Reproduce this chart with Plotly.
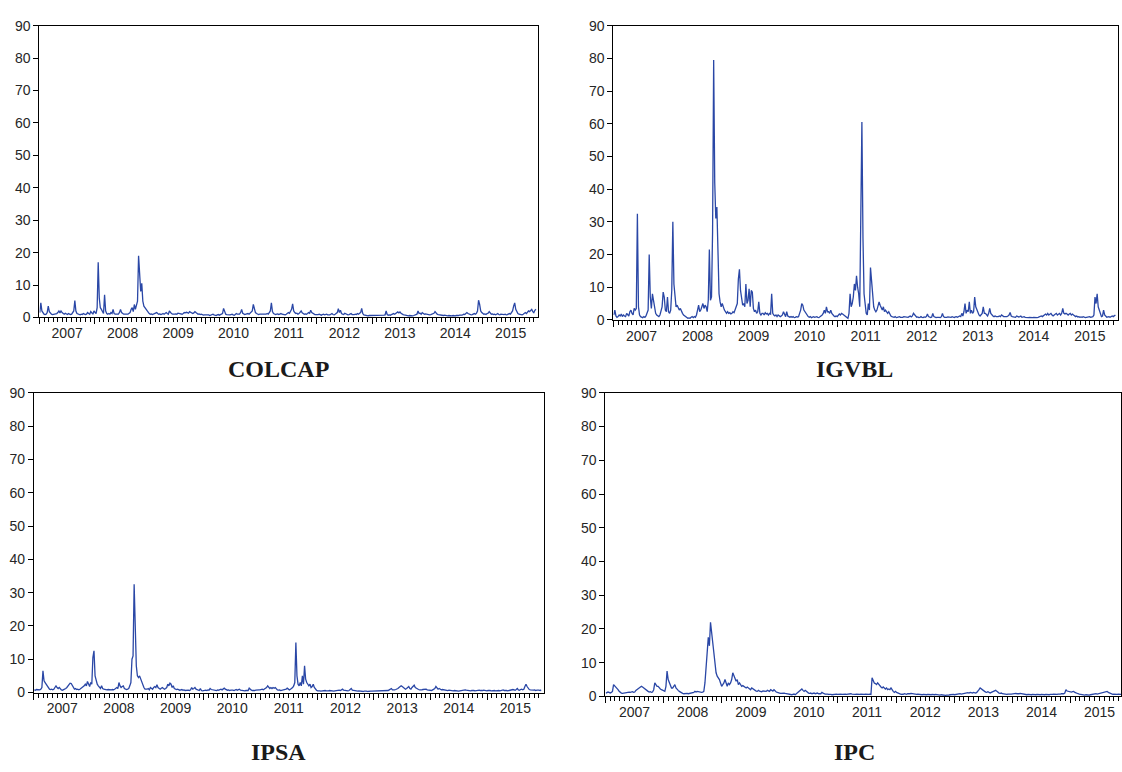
import pandas as pd
import plotly.graph_objects as go

# Weekly observations, one row of 52 per year (2007 ... 2015)
colcap = [
    1.5,4.5,2.0,1.2,1.0,0.9,1.0,1.5,3.5,1.8,1.2,1.0,0.9,1.0,1.1,1.0,1.2,1.5,2.0,1.4,2.0,1.5,1.2,1.0,1.3,1.0,0.9,1.2,1.0,0.9,1.0,1.5,2.0,5.2,2.0,1.2,1.0,0.9,0.8,1.0,0.9,1.2,1.0,0.9,1.0,1.5,1.2,1.0,1.8,1.2,1.0,2.0,
    1.5,1.2,3.0,17.0,6.0,3.0,2.5,1.5,1.2,7.0,2.0,1.2,1.0,1.2,1.0,1.5,1.2,2.5,1.2,1.0,1.0,0.9,1.0,1.5,2.5,1.5,1.2,1.0,1.0,0.9,1.0,1.0,1.2,1.5,2.5,3.0,1.8,4.0,2.5,3.5,5.0,19.0,11.0,8.0,10.5,5.0,3.5,3.0,2.5,2.0,1.5,1.2,
    1.0,1.1,0.9,1.0,1.2,1.3,1.5,1.2,1.0,1.1,0.9,1.0,1.2,1.0,1.3,1.5,1.2,1.0,2.0,1.5,1.2,1.0,0.9,1.0,1.1,1.0,1.3,1.2,1.0,0.9,1.0,1.2,1.5,1.4,1.6,1.5,1.3,1.8,1.5,1.3,1.2,1.4,1.8,1.5,1.2,1.0,1.1,0.9,1.0,0.8,0.7,0.8,
    0.8,0.7,0.9,0.8,0.6,0.7,0.9,1.0,0.8,0.7,0.6,0.8,0.9,0.7,0.8,1.0,1.2,2.8,1.5,1.0,0.9,0.8,0.7,0.8,0.9,1.0,0.8,0.7,0.9,1.2,1.0,0.9,1.0,1.5,2.5,1.3,1.0,0.9,1.0,1.1,1.2,1.0,1.3,1.5,2.0,4.0,2.5,1.5,1.2,1.0,0.9,1.0,
    1.0,0.9,1.0,1.1,0.9,1.0,1.2,1.0,1.5,2.0,4.5,1.8,1.2,1.0,0.9,1.0,1.1,0.9,1.0,1.2,1.0,0.9,1.0,0.8,1.0,1.2,1.5,1.3,1.8,2.5,4.2,2.0,1.5,1.2,1.3,1.0,1.2,1.5,2.0,1.4,1.2,1.0,1.1,1.0,1.2,1.5,1.3,2.2,1.5,1.2,1.0,0.9,
    0.9,0.8,0.9,1.0,0.8,0.7,0.9,1.0,0.8,0.9,1.0,0.8,0.7,0.8,1.0,1.2,0.9,0.8,1.0,1.2,1.5,2.7,1.5,2.2,1.2,1.0,0.9,1.3,1.1,1.0,0.8,0.9,1.0,1.2,0.9,0.8,0.9,1.0,0.9,1.2,1.0,1.3,1.5,2.8,1.2,0.8,0.7,0.6,0.6,0.5,0.6,0.6,
    0.5,0.6,0.5,0.6,0.5,0.6,0.5,0.6,0.7,0.6,0.5,0.6,0.7,0.8,2.0,0.9,0.7,0.8,0.7,0.9,1.0,1.2,1.0,1.3,1.5,1.7,1.4,1.7,1.3,1.0,0.9,0.8,0.7,0.6,0.6,0.5,0.6,0.5,0.6,0.5,0.6,0.7,0.8,1.0,2.0,1.2,1.3,1.0,1.5,1.2,1.0,1.1,
    1.0,0.9,1.0,0.8,0.9,1.0,1.2,1.3,1.8,1.2,1.0,0.9,0.8,0.7,0.8,0.7,0.6,0.7,0.6,0.6,0.5,0.6,0.5,0.6,0.5,0.6,0.5,0.5,0.6,0.5,0.6,0.7,0.6,0.7,0.8,1.0,0.9,1.2,1.5,1.2,1.0,0.9,0.8,0.9,1.0,1.2,1.0,1.3,2.0,5.3,4.0,2.0,
    1.5,1.2,1.0,1.1,0.9,1.2,1.3,1.8,1.2,1.0,1.1,0.9,1.0,0.8,1.0,1.2,0.9,0.8,1.0,0.9,0.8,0.9,1.0,0.8,0.9,1.0,1.2,1.0,1.5,2.0,3.5,4.5,2.5,1.5,1.2,1.0,0.9,1.0,0.8,1.0,1.2,1.5,1.2,1.5,2.0,1.8,2.2,2.5,1.8,1.5,2.2,2.5,
]

igvbl = [
    1.5,3.0,1.2,0.8,1.0,1.5,1.2,1.8,1.0,1.5,1.2,1.0,2.0,1.5,1.2,2.5,3.0,2.0,1.5,3.5,3.0,3.5,32.5,4.0,1.5,1.0,0.8,0.7,1.0,0.8,1.2,2.0,3.0,20.0,7.0,3.5,8.0,6.0,3.0,2.0,1.5,1.2,1.0,1.5,2.5,4.0,8.5,7.0,3.0,2.5,7.0,2.5,
    2.0,3.0,9.0,30.0,11.0,6.0,4.0,4.5,3.5,3.0,3.5,2.5,2.0,1.5,1.2,1.0,0.8,0.5,0.6,0.5,0.8,1.0,0.7,1.0,0.8,1.5,3.0,4.5,2.5,3.0,4.0,5.0,3.5,4.5,4.0,2.5,6.0,21.5,6.0,7.0,27.0,79.5,42.0,31.0,34.5,20.0,8.0,5.5,4.0,5.0,3.5,3.0,
    2.5,2.0,2.5,2.0,2.2,1.8,2.0,2.5,2.2,3.0,4.0,5.0,12.5,15.5,9.0,6.0,4.5,5.0,4.0,11.0,5.0,6.0,9.5,4.0,9.0,8.5,3.5,2.5,3.0,2.0,2.5,5.5,2.0,1.5,2.0,2.0,1.5,2.2,1.8,2.0,1.5,2.0,1.8,8.0,2.0,1.5,1.2,1.5,1.0,1.5,1.2,1.0,
    1.2,1.5,2.5,1.5,1.0,2.5,1.2,1.0,0.8,1.0,0.8,1.0,0.7,0.8,1.0,0.9,1.0,2.0,3.0,5.0,4.5,3.0,2.5,2.0,1.2,1.0,0.8,1.0,0.7,0.8,1.0,0.8,0.9,1.0,0.8,0.7,1.0,1.2,1.5,2.0,3.0,2.0,4.0,2.5,2.5,2.0,3.0,2.0,1.5,1.2,1.0,1.2,
    1.0,1.5,1.8,1.5,2.0,1.8,1.5,1.5,1.0,0.8,0.5,2.0,8.0,4.0,5.0,7.0,11.0,9.0,13.5,10.0,8.0,4.0,26.0,60.5,25.0,8.0,5.0,2.0,1.5,5.0,3.0,16.0,12.0,6.0,4.0,3.0,2.5,3.0,4.0,5.5,4.5,3.5,3.0,4.0,2.5,3.0,2.5,2.0,2.5,1.5,1.2,1.0,
    0.9,0.8,1.0,0.7,0.8,0.9,1.0,0.8,0.7,0.8,1.0,0.9,0.8,0.7,0.8,1.0,1.2,0.9,1.2,2.0,1.5,1.0,0.8,0.9,0.7,0.8,1.0,0.8,0.7,0.9,0.8,1.0,1.8,1.0,0.8,0.7,0.9,2.0,1.0,0.8,0.7,0.8,0.9,0.8,0.7,1.0,2.0,1.0,0.8,0.7,0.8,0.9,
    0.8,0.7,0.8,1.0,0.8,0.7,0.9,1.0,0.8,1.0,1.2,1.0,2.0,1.2,2.5,5.0,2.0,3.0,2.5,5.5,2.0,3.0,2.0,2.5,7.0,4.0,3.0,2.0,1.5,1.2,1.5,2.0,4.0,2.0,2.0,1.5,1.2,2.0,3.5,2.0,1.5,1.2,1.0,1.2,1.0,0.9,1.0,1.2,1.0,1.5,1.2,1.0,
    1.0,0.9,1.0,1.2,1.5,2.3,1.2,1.0,0.9,1.0,0.8,1.2,1.0,0.9,1.0,1.2,0.8,0.9,1.0,0.8,0.7,0.8,0.7,0.8,0.7,0.6,0.7,0.8,0.7,0.6,0.7,0.8,0.9,1.0,1.2,1.0,1.2,1.5,1.8,1.5,2.0,1.5,1.8,2.0,1.5,1.2,1.5,1.8,2.0,1.5,1.8,2.0,
    1.5,2.0,3.5,2.0,1.8,2.0,1.8,1.5,1.8,2.0,1.5,1.8,1.5,1.2,1.0,1.2,0.9,1.0,0.8,0.9,0.8,1.0,0.8,0.7,0.8,0.9,0.8,1.0,0.8,0.9,1.0,1.5,7.0,5.0,8.0,4.0,3.0,1.5,1.0,1.2,3.0,1.5,1.0,0.8,0.9,1.0,0.8,1.0,1.2,1.0,1.2,1.5,
]

ipsa = [
    0.8,0.7,0.9,0.8,0.7,0.8,1.0,1.5,6.5,3.5,3.0,2.5,1.8,1.2,1.0,0.9,1.0,0.8,1.0,1.5,2.0,1.5,1.2,1.5,1.0,0.8,0.7,0.8,1.0,1.2,1.5,2.0,2.5,2.8,2.7,2.0,1.5,1.0,1.2,0.9,1.0,0.8,1.0,1.2,1.5,1.8,2.0,2.5,2.0,3.3,2.5,1.8,
    3.0,2.5,10.5,12.5,5.0,3.5,2.5,2.0,1.5,1.2,2.0,1.2,1.0,0.9,0.8,0.8,0.9,0.8,0.7,0.8,0.9,0.8,1.0,1.2,1.5,1.2,3.0,2.0,1.5,1.8,2.0,1.2,1.0,0.9,1.0,1.2,2.0,3.0,10.0,11.0,32.5,16.5,8.0,5.0,4.5,5.0,4.0,3.5,2.5,1.5,1.0,0.9,
    1.0,1.2,0.8,1.5,1.2,1.0,1.5,1.8,1.5,2.3,1.5,1.2,1.0,1.3,1.5,1.2,1.0,1.2,1.5,2.5,2.0,2.8,2.5,1.5,2.0,1.2,1.0,0.9,1.0,0.8,0.7,0.8,0.9,0.7,0.8,0.6,0.7,0.8,0.7,0.6,0.8,1.5,1.0,1.2,1.5,1.0,0.8,0.7,0.6,1.2,0.6,0.5,
    0.6,0.5,0.7,0.6,0.8,0.7,1.2,0.9,0.8,0.7,0.6,0.7,0.6,0.8,0.7,0.9,1.0,0.8,1.0,1.3,1.0,0.8,0.7,0.8,0.6,0.7,0.8,0.7,0.6,0.8,0.9,0.7,0.8,1.0,0.7,0.6,0.7,0.6,0.5,0.6,0.7,0.6,1.3,0.8,0.7,0.6,0.5,0.6,0.7,0.8,0.7,0.8,
    0.8,0.9,1.0,0.8,1.0,1.2,1.5,2.0,1.5,1.2,1.5,1.2,1.5,1.3,1.5,1.0,0.8,0.7,0.8,0.6,0.7,0.8,0.7,0.8,1.0,1.3,0.9,0.8,1.0,1.2,1.5,2.0,3.0,15.0,5.0,2.5,2.0,3.0,2.0,5.0,2.5,8.0,4.0,3.0,2.5,2.0,2.5,1.5,1.8,2.5,1.5,1.0,
    0.7,0.5,0.6,0.5,0.4,0.5,0.6,0.5,0.6,0.5,0.4,0.5,0.6,0.5,0.6,0.5,0.4,0.5,0.6,0.5,0.6,0.7,0.6,0.8,1.0,0.7,0.6,0.5,0.6,0.5,0.6,0.8,1.2,0.7,0.6,0.5,0.4,0.5,0.4,0.5,0.4,0.5,0.4,0.3,0.4,0.5,0.4,0.3,0.4,0.5,0.4,0.4,
    0.4,0.5,0.4,0.5,0.4,0.5,0.4,0.5,0.6,0.5,0.4,0.5,0.6,0.5,0.6,0.8,0.9,1.2,0.8,0.7,0.8,0.9,1.0,1.2,1.5,1.8,2.0,1.8,1.5,1.2,1.0,1.2,1.5,1.8,1.2,1.0,1.5,1.8,2.2,1.5,1.2,1.0,0.9,0.8,0.7,0.8,0.9,1.0,1.1,1.0,0.8,0.7,
    0.6,0.7,0.6,0.8,0.9,1.2,1.8,1.3,1.0,1.2,0.9,0.8,0.9,0.8,0.7,0.8,0.7,0.6,0.7,0.6,0.5,0.6,0.5,0.6,0.5,0.6,0.5,0.4,0.5,0.6,0.5,0.6,0.7,0.8,0.7,0.6,0.7,0.6,0.5,0.6,0.7,0.6,0.5,0.6,0.7,0.8,0.7,0.6,0.5,0.6,0.7,0.6,
    0.6,0.5,0.6,0.7,0.6,0.5,0.6,0.7,0.6,0.5,0.6,0.7,0.6,0.5,0.6,0.7,0.8,0.6,0.7,0.6,0.5,0.6,0.7,0.8,0.7,0.9,0.8,0.7,0.9,1.2,0.8,0.7,0.9,1.0,0.8,1.0,1.8,2.5,1.8,1.2,0.9,0.8,0.7,0.6,0.7,0.8,0.6,0.7,0.8,0.7,0.6,0.8,
]

ipc = [
    1.0,1.2,1.3,1.2,1.0,1.2,1.5,3.5,3.2,2.8,2.5,2.0,1.5,1.2,1.0,0.9,1.0,1.1,1.2,1.3,1.4,1.3,1.2,1.3,1.4,1.2,1.3,1.8,2.0,2.3,2.5,2.8,3.0,2.8,2.5,2.2,2.0,1.8,1.5,1.3,1.4,1.2,1.3,2.0,4.0,3.5,3.0,3.0,2.5,2.2,2.0,1.8,
    1.6,1.5,3.0,7.5,5.0,4.0,3.0,2.5,2.5,3.0,3.5,2.5,2.0,1.8,1.5,1.2,1.0,0.9,0.8,0.9,0.8,0.9,0.8,0.9,1.0,0.9,1.0,1.2,1.5,1.3,1.5,1.4,1.2,1.3,1.2,1.3,1.5,4.0,10.0,13.0,17.5,15.0,22.0,19.0,17.0,12.0,10.0,7.0,6.0,5.5,5.0,4.0,
    3.0,3.5,4.0,5.0,3.5,3.0,4.0,3.5,4.0,5.0,7.0,6.0,5.5,4.5,5.0,3.5,4.0,3.5,3.0,3.2,3.0,2.8,2.5,2.8,2.5,2.2,2.0,2.5,2.2,2.0,1.8,1.6,1.5,1.8,1.6,1.5,1.4,1.6,1.5,1.4,1.5,1.8,1.6,1.5,2.0,1.8,1.6,2.0,1.5,1.3,1.2,1.0,
    1.0,0.9,1.0,1.1,1.0,0.9,0.8,0.7,0.6,0.7,0.6,0.5,0.6,0.7,0.5,0.8,1.0,1.2,1.5,1.8,2.2,1.8,1.5,1.8,1.5,1.2,1.0,0.9,1.0,0.8,0.9,1.0,0.8,0.9,1.0,0.8,0.9,0.8,1.2,0.9,0.8,0.7,0.8,0.7,0.6,0.7,0.6,0.5,0.6,0.7,0.6,0.7,
    0.6,0.7,0.6,0.7,0.6,0.7,0.8,0.7,0.6,0.7,0.6,0.7,0.8,0.7,0.6,0.7,0.6,0.7,0.6,0.7,0.6,0.7,0.6,0.5,0.6,0.7,0.6,0.5,0.6,0.7,0.6,5.5,4.5,4.0,3.8,3.5,4.0,3.5,3.0,2.8,2.5,2.8,2.5,2.2,2.5,2.0,2.2,2.0,2.5,1.8,1.5,1.2,
    1.5,1.2,1.0,0.8,0.7,0.6,0.7,0.6,0.8,0.7,0.6,0.8,0.7,0.8,0.9,0.8,0.7,0.8,0.7,0.6,0.7,0.6,0.7,0.6,0.5,0.6,0.5,0.6,0.5,0.6,0.5,0.6,0.5,0.6,0.5,0.5,0.6,0.5,0.4,0.5,0.4,0.5,0.4,0.3,0.4,0.3,0.4,0.3,0.4,0.5,0.6,0.5,
    0.6,0.5,0.6,0.7,0.6,0.7,0.8,0.7,0.8,0.9,1.0,0.9,1.0,1.1,1.0,1.2,1.1,1.0,1.2,1.1,1.0,1.2,1.5,2.0,2.5,2.2,1.8,1.6,1.5,1.3,1.2,1.4,1.2,1.0,1.2,1.3,1.5,1.6,1.8,1.5,1.2,1.0,0.9,1.0,0.8,0.7,0.6,0.7,0.6,0.7,0.6,0.7,
    0.7,0.8,0.7,0.8,0.9,0.8,0.7,0.8,0.9,0.8,0.7,0.6,0.7,0.6,0.5,0.6,0.5,0.6,0.5,0.6,0.5,0.6,0.5,0.6,0.5,0.6,0.5,0.6,0.5,0.6,0.5,0.6,0.5,0.6,0.5,0.6,0.5,0.6,0.7,0.6,0.5,0.6,0.7,0.6,0.7,0.8,0.7,0.8,1.0,2.0,1.6,1.5,
    1.4,1.5,1.3,1.4,1.5,1.2,1.0,0.9,0.8,0.7,0.6,0.5,0.6,0.5,0.4,0.5,0.4,0.5,0.4,0.5,0.6,0.5,0.6,0.7,0.8,0.7,0.8,0.9,0.8,0.9,1.0,1.1,1.2,1.3,1.5,1.2,1.0,0.8,0.7,0.6,0.7,0.6,0.5,0.6,0.7,0.6,0.5,0.6,0.7,0.6,0.5,0.6,
]

titles = ["COLCAP", "IGVBL", "IPSA", "IPC"]
series = [colcap, igvbl, ipsa, ipc]
y_ticks = [0, 10, 20, 30, 40, 50, 60, 70, 80, 90]

W, H = 1122, 772
LINE = "#2a47a6"
TXT = "#262626"

# panel boxes in pixels: (left, right, top, bottom), x-range end, title centre
panels = [
    dict(box=(39.5, 538.7, 18, 316), xend="2015-12-31", tx=279, ty=369),
    dict(box=(614, 1118.7, 18, 318.5), xend="2015-12-31", tx=855, ty=369),
    dict(box=(34, 544, 393, 699), xend="2015-12-31", tx=279, ty=760),
    dict(box=(606, 1122, 393, 703), xend="2015-11-14", tx=855, ty=760),
]

fig = go.Figure()
for i, (name, vals, p) in enumerate(zip(titles, series, panels)):
    dates = pd.date_range("2007-01-03", periods=len(vals), freq="7D")
    ax = "" if i == 0 else str(i + 1)
    fig.add_trace(go.Scatter(x=dates, y=vals, mode="lines",
                             line=dict(color=LINE, width=1.3),
                             xaxis="x" + ax, yaxis="y" + ax,
                             showlegend=False, hoverinfo="skip"))
    l, r, t, b = p["box"]
    fig.layout["xaxis" + ax] = dict(
        domain=[l / W, min(r / W, 1.0)], anchor="y" + ax, type="date",
        range=["2007-01-01", p["xend"]],
        tick0="2007-01-01", dtick="M12", tickformat="%Y", ticklabelmode="period",
        ticks="outside", ticklen=6, tickcolor="#000", tickwidth=1,
        ticklabelstandoff=-3,
        minor=dict(dtick="M1", ticks="outside", ticklen=4, tickcolor="#000", tickwidth=1, showgrid=False),
        showline=True, linecolor="#000", linewidth=1, mirror=True,
        showgrid=False, zeroline=False,
        tickfont=dict(family="Liberation Sans, Arial", size=14, color=TXT),
    )
    fig.layout["yaxis" + ax] = dict(
        domain=[1 - b / H, 1 - t / H], anchor="x" + ax,
        range=[0, 90], tickvals=y_ticks,
        ticks="outside", ticklen=5, tickcolor="#000", tickwidth=1,
        showline=True, linecolor="#000", linewidth=1, mirror=True,
        showgrid=False, zeroline=False,
        tickfont=dict(family="Liberation Sans, Arial", size=14, color=TXT),
    )
    fig.add_annotation(text="<b>%s</b>" % name, x=p["tx"] / W, y=1 - p["ty"] / H,
                       xref="paper", yref="paper", xanchor="center", yanchor="middle",
                       showarrow=False,
                       font=dict(family="Liberation Serif, Times New Roman", size=24, color="#1a1a1a"))

fig.update_layout(width=W, height=H, margin=dict(l=0, r=0, t=0, b=0),
                  paper_bgcolor="white", plot_bgcolor="white")
fig.write_html("out.html", config={"displayModeBar": False},
               post_script="document.body.style.margin='0';document.body.style.overflow='hidden';")
